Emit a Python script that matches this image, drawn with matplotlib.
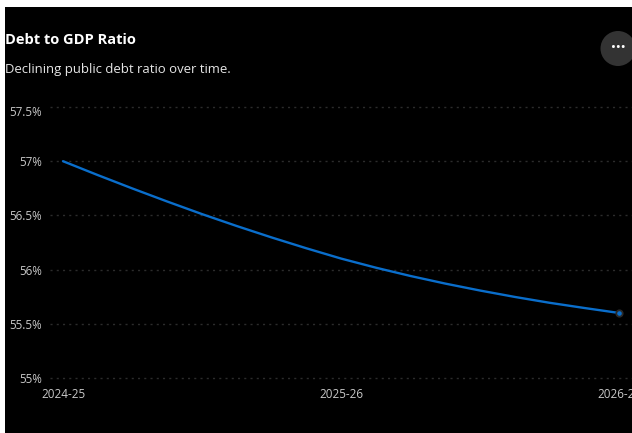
import matplotlib
matplotlib.use('Agg')
import matplotlib.pyplot as plt
from matplotlib.patches import Circle, Rectangle
from matplotlib.transforms import ScaledTranslation

plt.rcParams['font.family'] = ['Open Sans', 'DejaVu Sans']

# Debt ratio by fiscal year
period_positions = [0, 0.125, 0.25, 0.375, 0.5, 0.625, 0.75, 0.875, 1.0,
                    1.125, 1.25, 1.375, 1.5, 1.625, 1.75, 1.875, 2.0]
debt_ratio = [57.0, 56.872, 56.748, 56.628, 56.512, 56.402, 56.297, 56.197, 56.102,
              56.018, 55.941, 55.871, 55.807, 55.748, 55.694, 55.646, 55.6]
tick_periods = [0, 1, 2]
tick_labels = ['2024-25', '2025-26', '2026-27']
y_ticks = [55, 55.5, 56, 56.5, 57, 57.5]
y_labels = ['55%', '55.5%', '56%', '56.5%', '57%', '57.5%']

W, H = 632, 433

fig = plt.figure(figsize=(W / 100, H / 100), dpi=100, facecolor='white')

# Black panel behind everything
bg = fig.add_axes([0, 0, 1, 1])
bg.set_xlim(0, W)
bg.set_ylim(H, 0)
bg.axis('off')
bg.add_patch(Rectangle((5, 7), W - 5, H - 7, facecolor='black', edgecolor='none'))

# Title and subtitle
bg.text(5, 39.5, 'Debt to GDP Ratio', color='white', fontsize=10.5, fontweight='bold', va='center')
bg.text(5, 69, 'Declining public debt ratio over time.', color='#e6e6e6', fontsize=9.45, va='center')

# Plot area
ax = fig.add_axes([50 / W, 1 - 378 / H, (W - 50) / W, (378 - 107) / H])
ax.patch.set_alpha(0)
ax.set_xlim(-(63 - 50) / 278, (W - 63) / 278)
ax.set_ylim(55, 57.5)
ax.plot(period_positions, debt_ratio, color='#0a6ecb', lw=1.7, solid_capstyle='round', zorder=3)
ax.plot(period_positions[-1], debt_ratio[-1], 'o', color='#0a6ecb', ms=4.6,
        markeredgecolor='#2a2a2a', markeredgewidth=1.3, zorder=4)

ax.set_yticks(y_ticks)
ax.set_yticklabels(y_labels)
ax.set_xticks(tick_periods)
ax.set_xticklabels(tick_labels)
ax.tick_params(axis='both', length=0, labelcolor='#c8c8c8', labelsize=8.4)
ax.tick_params(axis='y', pad=6)
ax.tick_params(axis='x', pad=7)
ax.grid(axis='x', visible=False)
ax.grid(axis='y', color='#2c2c2c', lw=1, linestyle=(0, (1.5, 3)))
ax.set_axisbelow(True)
for spine in ax.spines.values():
    spine.set_visible(False)
for line in ax.get_ygridlines():
    line.set_clip_on(False)

# Top label sits a little under its gridline
top_label = ax.get_yticklabels()[-1]
top_label.set_transform(top_label.get_transform() + ScaledTranslation(0, -3 / 72, fig.dpi_scale_trans))

# Round menu button in the corner
bg.add_patch(Circle((618, 48.5), 17.5, facecolor='#333333', edgecolor='none', zorder=5))
bg.text(618.5, 48.5, '\u00b7\u00b7\u00b7', color='white', fontsize=12, fontweight='bold',
        ha='center', va='center', zorder=6)

fig.savefig('out.png', dpi=100, facecolor=fig.get_facecolor())
